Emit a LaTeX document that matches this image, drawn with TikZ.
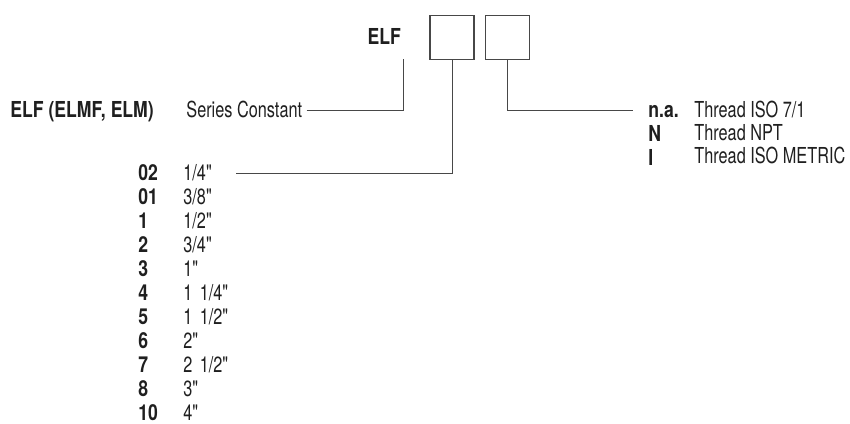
\documentclass[tikz,border=0pt]{standalone}
\usepackage{fontspec}
\setmainfont{TeX Gyre Heros}[FakeStretch=0.74, BoldFeatures={FakeStretch=0.8}]
\usepackage{xcolor}
\usetikzlibrary{positioning}

\colorlet{ink}{black!88}
\colorlet{rule}{black!72}
\newcommand{\inch}{\textquotedbl}

\begin{document}
\begin{tikzpicture}[
    x=0.5pt, y=-0.5pt,
    node distance=4.6pt,
    font=\fontsize{11}{13}\selectfont, text=ink,
    field/.style={rectangle, draw=rule, line width=0.65pt, minimum size=22pt, inner sep=0pt},
    lead/.style={draw=rule, line width=0.5pt},
    plain/.style={inner sep=0pt, text height=7pt, text depth=0pt},
    code/.style={plain, font=\fontsize{11}{13}\selectfont\bfseries, text width=20pt, align=left},
    size/.style={plain, text width=26pt, align=left},
    thread/.style={plain, anchor=base west}
  ]
    \useasboundingbox (0,0) rectangle (850,423);

    % order code
    \node[field] (b1) at (452,37.5) {};
    \node[field, right=5pt of b1] (b2) {};
    \node[plain, font=\fontsize{11}{13}\selectfont\bfseries, left=14pt of b1] (elf) {ELF};

    % series
    \node[plain, font=\fontsize{11}{13}\selectfont\bfseries, anchor=base west] (fam) at (10,117) {ELF (ELMF, ELM)};
    \node[plain, anchor=base west] (series) at (186,117) {Series Constant};

    % sizes
    \node[code, anchor=base west] (c02) at (138,180) {02};
    \node[code, below=of c02] (c01) {01};
    \node[code, below=of c01] (c1) {1};
    \node[code, below=of c1] (c2) {2};
    \node[code, below=of c2] (c3) {3};
    \node[code, below=of c3] (c4) {4};
    \node[code, below=of c4] (c5) {5};
    \node[code, below=of c5] (c6) {6};
    \node[code, below=of c6] (c7) {7};
    \node[code, below=of c7] (c8) {8};
    \node[code, below=of c8] (c10) {10};

    \node[size, anchor=base west] (v02) at (183,180) {1/4\inch};
    \node[size, below=of v02] (v01) {3/8\inch};
    \node[size, below=of v01] (v1) {1/2\inch};
    \node[size, below=of v1] (v2) {3/4\inch};
    \node[size, below=of v2] (v3) {1\inch};
    \node[size, below=of v3] (v4) {1 1/4\inch};
    \node[size, below=of v4] (v5) {1 1/2\inch};
    \node[size, below=of v5] (v6) {2\inch};
    \node[size, below=of v6] (v7) {2 1/2\inch};
    \node[size, below=of v7] (v8) {3\inch};
    \node[size, below=of v8] (v10) {4\inch};

    % threads
    \node[code, anchor=base west] (na) at (648,117) {n.a.};
    \node[code, below=of na] (npt) {N};
    \node[code, below=of npt] (met) {I};
    \node[thread] (tna) at (694,117) {Thread ISO 7/1};
    \node[thread] (tnpt) at (694,140.2) {Thread NPT};
    \node[thread] (tmet) at (694,163.4) {Thread ISO METRIC};

    \draw[lead] ([xshift=2pt]series.east) -| ([xshift=1pt,yshift=-7pt]elf.south east);
    \draw[lead] (b1.south) |- (v02.east);
    \draw[lead] (b2.south) |- ([xshift=-7.5pt]na.west);
  \end{tikzpicture}
\end{document}
